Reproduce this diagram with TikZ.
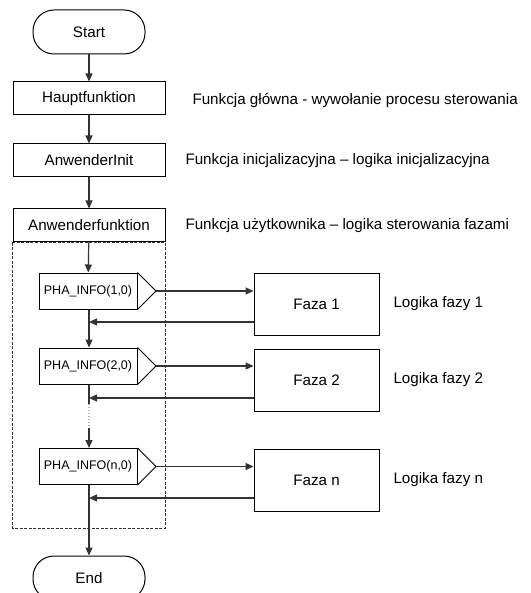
\documentclass[tikz,border=0pt]{standalone}
\usepackage{fontspec}
\setmainfont{Liberation Sans}
\usetikzlibrary{arrows.meta}
\newcommand{\mainsize}{\fontsize{15.2}{18}\selectfont}
\newcommand{\smallsize}{\fontsize{12.5}{15}\selectfont}
\tikzset{
	every path/.style={line width=1pt},
	term/.style={
		draw,
		rectangle,
		rounded corners=21pt,
		minimum width=112pt,
		minimum height=44pt,
		font=\mainsize,
	},
	func/.style={
		draw,
		rectangle,
		minimum width=152pt,
		minimum height=33pt,
		font=\mainsize,
	},
	pha/.style={
		draw,
		rectangle,
		minimum width=98pt,
		minimum height=36pt,
		font=\smallsize,
	},
	faza/.style={
		draw,
		rectangle,
		minimum width=125pt,
		minimum height=62pt,
		font=\mainsize,
	},
	note/.style={
		anchor=west,
		inner sep=0pt,
		font=\mainsize,
	},
	flow/.style={
		draw=black!80,
		line width=1.2pt,
		-{Triangle[length=8pt,width=7pt]}
	},
	group/.style={dash pattern=on 3pt off 1.5pt, line width=0.7pt, draw=black!80},
	gap/.style={dotted, line width=1.2pt, draw=black!30},
}

\begin{document}
\begin{tikzpicture}[x=1pt,y=-1pt]
		\useasboundingbox (0,0) rectangle (530,593);

		\node[term]  (start) at (89,32) {Start};
		\node[func]  (haupt) at (89,98.5) {Hauptfunktion};
		\node[func]  (init) at (89,160.5) {AnwenderInit};
		\node[func]  (anw) at (89,225.5) {Anwenderfunktion};

		\node[note]  (hauptnote) at (192,100) {Funkcja główna - wywołanie procesu sterowania};
		\node[note]  (initnote) at (185,161) {Funkcja inicjalizacyjna – logika inicjalizacyjna};
		\node[note]  (anwnote) at (185,226) {Funkcja użytkownika – logika sterowania fazami};

		\node[pha]   (pha1) at (88,291) {PHA\_INFO(1,0)};
		\node[pha]   (pha2) at (88,366) {PHA\_INFO(2,0)};
		\node[pha]   (phan) at (88,466.5) {PHA\_INFO(n,0)};

		\node[faza]  (faza1) at (316.5,304) {Faza 1};
		\node[faza]  (faza2) at (316.5,380) {Faza 2};
		\node[faza]  (fazan) at (316.5,480) {Faza n};

		\node[note]  (logika1) at (393,304) {Logika fazy 1};
		\node[note]  (logika2) at (393,380) {Logika fazy 2};
		\node[note]  (logikan) at (393,480) {Logika fazy n};

		\node[term]  (end) at (89,578) {End};

		\coordinate (tip1) at (156,291);
		\coordinate (tip2) at (156,366);
		\coordinate (tipn) at (156,466.5);
		\coordinate (back1) at (89,322);
		\coordinate (back2) at (89,398);
		\coordinate (backn) at (89,498);
		\coordinate (gaptop) at (89,404);
		\coordinate (gapbot) at (89,428);
		\coordinate (groupend) at (165,528);

		% call tips
		\draw (pha1.north east) -- (tip1) -- (pha1.south east);
		\draw (pha2.north east) -- (tip2) -- (pha2.south east);
		\draw (phan.north east) -- (tipn) -- (phan.south east);

		\draw[group] (anw.south west) rectangle (groupend);

		\draw[flow] (start) -- (haupt);
		\draw[flow] (haupt) -- (init);
		\draw[flow] (init) -- (anw);
		\draw[flow] (anw) -- (pha1);
		\draw[flow] (pha1.south -| back1) -- (pha2.north -| back1);
		\draw[flow, -] (pha2.south -| back2) -- (gaptop);
		\draw[gap] (gaptop) -- (gapbot);
		\draw[flow] (gapbot) -- (phan.north -| gapbot);
		\draw[flow] (phan.south -| backn) -- (end);

		\draw[flow] (tip1) -- (faza1.west |- tip1);
		\draw[flow] (tip2) -- (faza2.west |- tip2);
		\draw[flow] (tipn) -- (fazan.west |- tipn);

		\draw[flow] (faza1.west |- back1) -- (back1);
		\draw[flow] (faza2.west |- back2) -- (back2);
		\draw[flow] (fazan.west |- backn) -- (backn);

	\end{tikzpicture}
\end{document}
